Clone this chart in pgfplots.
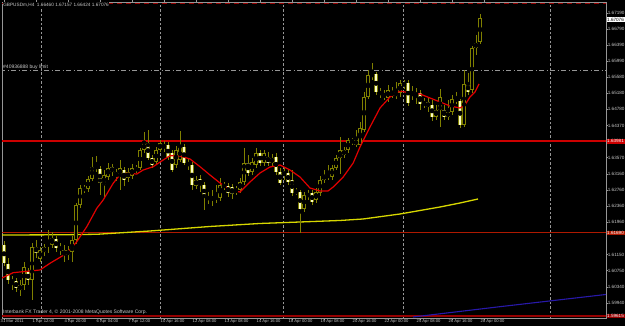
\documentclass[border=0pt]{standalone}
\usepackage{pgfplots}
\usepackage{pgfplotstable}
\usepackage{fontspec}
\setmainfont{Liberation Sans}
\pgfplotsset{compat=1.18}
\definecolor{candle}{RGB}{128,128,0}
\definecolor{bearfill}{RGB}{252,252,200}
\definecolor{txt}{RGB}{200,200,200}
\definecolor{gridc}{RGB}{150,150,150}
\definecolor{maRed}{RGB}{225,0,0}
\definecolor{hlRed}{RGB}{205,0,0}
\definecolor{dkRed}{RGB}{150,0,0}
\definecolor{brRed}{RGB}{175,25,0}
\definecolor{maYellow}{RGB}{215,215,0}
\definecolor{maBlue}{RGB}{40,25,170}
\newcommand\mt{\fontsize{5.0}{6}\selectfont}
\newcommand\mtt{\fontsize{4.7}{6}\selectfont}
\newcommand\mtp{\fontsize{4.6}{5.5}\selectfont}
\newcommand\mtx{\fontsize{4.15}{5}\selectfont}

\pgfplotstableread{
i o h l c
0 1.61390 1.61490 1.60865 1.60940
1 1.60915 1.61065 1.60415 1.60515
2 1.60515 1.60615 1.60265 1.60440
3 1.60490 1.60565 1.60215 1.60315
4 1.60265 1.60515 1.60115 1.60390
5 1.60390 1.60965 1.60265 1.60840
6 1.60715 1.60815 1.60390 1.60515
7 1.60515 1.61440 1.60015 1.61340
8 1.61340 1.61515 1.61065 1.61190
9 1.61040 1.61340 1.60965 1.61265
10 1.61215 1.61415 1.61115 1.61340
11 1.61365 1.61765 1.61190 1.61440
12 1.61390 1.61715 1.61315 1.61565
13 1.61540 1.61615 1.61215 1.61315
14 1.61340 1.61440 1.61140 1.61265
15 1.61265 1.61390 1.60965 1.61140
16 1.61140 1.61365 1.61015 1.61265
17 1.61215 1.61615 1.60965 1.61515
18 1.61515 1.62440 1.61415 1.62390
19 1.62390 1.62890 1.62315 1.62815
20 1.62815 1.62890 1.62690 1.62765
21 1.62790 1.63115 1.62715 1.63040
22 1.63040 1.63590 1.62990 1.63340
23 1.63315 1.63615 1.63215 1.63365
24 1.63290 1.63365 1.62640 1.62940
25 1.62890 1.63265 1.62590 1.63140
26 1.63090 1.63440 1.63015 1.63315
27 1.63340 1.63415 1.63115 1.63215
28 1.63215 1.63290 1.62990 1.63115
29 1.63140 1.63515 1.62765 1.63315
30 1.63265 1.63340 1.62865 1.63015
31 1.63065 1.63315 1.62965 1.63215
32 1.63115 1.63415 1.63040 1.63315
33 1.63265 1.63390 1.63190 1.63315
34 1.63315 1.63815 1.63265 1.63765
35 1.63765 1.64215 1.63690 1.63940
36 1.63940 1.64265 1.63515 1.63565
37 1.63565 1.63640 1.63315 1.63390
38 1.63465 1.63840 1.63390 1.63765
39 1.63765 1.64015 1.63715 1.63940
40 1.63915 1.63990 1.63715 1.63815
41 1.63890 1.63965 1.63515 1.63590
42 1.63690 1.63765 1.63215 1.63265
43 1.63390 1.63865 1.63315 1.63765
44 1.63515 1.64240 1.63465 1.63840
45 1.63840 1.63915 1.63390 1.63440
46 1.63465 1.63565 1.63265 1.63365
47 1.63390 1.63465 1.62765 1.62890
48 1.62865 1.63115 1.62790 1.63015
49 1.63040 1.63140 1.62715 1.62890
50 1.62890 1.62965 1.62265 1.62590
51 1.62615 1.62715 1.62415 1.62515
52 1.62590 1.62765 1.62365 1.62515
53 1.62615 1.62890 1.62440 1.62540
54 1.62565 1.63065 1.62490 1.62890
55 1.62840 1.62965 1.62765 1.62890
56 1.62865 1.62940 1.62590 1.62690
57 1.62840 1.62915 1.62540 1.62665
58 1.62765 1.62865 1.62640 1.62740
59 1.62765 1.63065 1.62690 1.62965
60 1.62965 1.63815 1.62890 1.63440
61 1.63440 1.63640 1.63115 1.63190
62 1.63215 1.63565 1.63140 1.63465
63 1.63390 1.63815 1.63315 1.63690
64 1.63690 1.63765 1.63365 1.63440
65 1.63440 1.63765 1.63365 1.63690
66 1.63590 1.63715 1.63365 1.63440
67 1.63440 1.63665 1.63365 1.63565
68 1.63590 1.63690 1.63140 1.63215
69 1.63215 1.63315 1.62890 1.62940
70 1.63215 1.63315 1.63015 1.63140
71 1.63190 1.63265 1.62890 1.62965
72 1.63015 1.63265 1.62615 1.62690
73 1.62740 1.62815 1.62640 1.62690
74 1.62715 1.62765 1.61690 1.62290
75 1.62290 1.62715 1.62215 1.62640
76 1.62590 1.62765 1.62515 1.62690
77 1.62690 1.62765 1.62390 1.62465
78 1.62515 1.62815 1.62440 1.62715
79 1.62690 1.63115 1.62615 1.63015
80 1.63140 1.63265 1.62940 1.63015
81 1.63090 1.63390 1.63015 1.63140
82 1.63090 1.63390 1.63015 1.63315
83 1.63315 1.63640 1.63265 1.63565
84 1.63565 1.64090 1.63165 1.63765
85 1.63765 1.63840 1.63565 1.63640
86 1.63765 1.64065 1.63690 1.64015
87 1.64015 1.64065 1.63890 1.63965
88 1.64015 1.64265 1.63840 1.63890
89 1.63890 1.64465 1.63840 1.64315
90 1.64265 1.65215 1.64215 1.65090
91 1.65090 1.65765 1.65040 1.65640
92 1.65615 1.65940 1.65515 1.65665
93 1.65665 1.65715 1.65140 1.65215
94 1.65240 1.65315 1.65065 1.65140
95 1.65165 1.65265 1.65015 1.65090
96 1.65065 1.65390 1.64965 1.65265
97 1.65215 1.65340 1.65065 1.65140
98 1.65115 1.65465 1.65040 1.65215
99 1.65190 1.65515 1.65090 1.65440
100 1.65440 1.65515 1.65290 1.65390
101 1.65440 1.65515 1.64865 1.64940
102 1.65190 1.65365 1.65015 1.65140
103 1.65165 1.65315 1.64915 1.65140
104 1.65190 1.65265 1.64765 1.64915
105 1.64890 1.65065 1.64815 1.64965
106 1.64965 1.65065 1.64715 1.64840
107 1.64890 1.65015 1.64490 1.64590
108 1.64590 1.64890 1.64515 1.64765
109 1.64765 1.65290 1.64340 1.65090
110 1.64765 1.64890 1.64515 1.64590
111 1.64590 1.65015 1.64515 1.64715
112 1.64715 1.65140 1.64640 1.65040
113 1.65065 1.65215 1.64915 1.64990
114 1.64990 1.65040 1.64315 1.64390
115 1.64390 1.65765 1.64340 1.65415
116 1.65415 1.65690 1.65140 1.65215
117 1.65265 1.66365 1.65190 1.66315
118 1.66315 1.66640 1.66140 1.66440
119 1.66460 1.67157 1.66424 1.67076
}\candles

\begin{document}
\begin{tikzpicture}[x=1pt,y=1pt]
\clip (0,0) rectangle (625,326);
\fill[black] (0,0) rectangle (625,326);
\begin{axis}[
  at={(2pt,8pt)}, anchor=south west,
  width=604pt, height=316pt, scale only axis,
  xmin=-0.5, xmax=150.5, ymin=1.59565, ymax=1.67465,
  axis line style={draw=gridc, line width=0.8pt},
  tick align=outside, major tick length=2pt,
  tick style={draw=gridc, line width=0.6pt},
  xtick={0,8,...,120},
  xticklabels={31 Mar 2011,1 Apr 12:00,4 Apr 20:00,6 Apr 04:00,7 Apr 12:00,10 Apr 16:00,12 Apr 08:00,13 Apr 08:00,14 Apr 16:00,18 Apr 00:00,19 Apr 08:00,20 Apr 16:00,22 Apr 00:00,25 Apr 08:00,26 Apr 16:00,28 Apr 00:00},
  xticklabel style={font=\mtx, text=txt, anchor=north west, inner sep=0pt, xshift=-3.5pt, yshift=0.3pt},
  ytick pos=right,
  ytick={1.67190,1.66790,1.66390,1.65990,1.65580,1.65180,1.64780,1.64370,1.63570,1.63160,1.62760,1.62360,1.61960,1.61150,1.60750,1.60340,1.59940},
  yticklabels={1.67190,1.66790,1.66390,1.65990,1.65580,1.65180,1.64780,1.64370,1.63570,1.63160,1.62760,1.62360,1.61960,1.61150,1.60750,1.60340,1.59940},
  yticklabel style={font=\mtp, text=txt, anchor=west, inner sep=0pt, xshift=-0.3pt},
  clip=true,
]
% vertical grid
\foreach \g in {9.25,39,69.75,99.75,136.5}{
  \edef\tmp{\noexpand\draw[gridc, line width=0.7pt, dash pattern=on 2.5pt off 2pt] (axis cs:\g,1.59565) -- (axis cs:\g,1.67465);}\tmp
}
% top dashed order line
\addplot[dkRed, line width=0.9pt, dash pattern=on 5pt off 4pt] coordinates {(-1,1.67433) (152,1.67433)};
% buy limit line
\addplot[gridc, line width=0.8pt, dash pattern=on 5pt off 2.5pt on 1pt off 2.5pt] coordinates {(-1,1.65758) (152,1.65758)};
% horizontal lines
\addplot[hlRed, line width=1.8pt] coordinates {(-1,1.63981) (152,1.63981)};
\addplot[brRed, line width=1pt] coordinates {(-1,1.61690) (152,1.61690)};
\addplot[dkRed, line width=1.8pt] coordinates {(-1,1.59615) (152,1.59615)};
% slow yellow MA
\addplot[maYellow, line width=1.3pt] coordinates {(-0.5,1.61640) (14,1.61645) (23.25,1.61658) (27.25,1.61683) (36.5,1.61740) (51.5,1.61853) (64,1.61928) (74,1.61965) (84,1.62003) (89.75,1.62040) (99,1.62165) (109,1.62340) (114,1.62440) (118.5,1.62540)};
% blue line
\addplot[maBlue, line width=1.1pt] coordinates {(102.25,1.59590) (124,1.59848) (150.5,1.60153)};
% wicks
\addplot[only marks, mark=none, error bars/.cd, y dir=both, y explicit, error mark=none,
  error bar style={draw=candle, line width=1pt}]
  table[x=i, y expr={(\thisrow{h}+\thisrow{l})/2}, y error expr={(\thisrow{h}-\thisrow{l})/2}] {\candles};
% bear bodies
\addplot[only marks, mark=none, unbounded coords=discard, error bars/.cd, y dir=both, y explicit, error mark=none,
  error bar style={draw=candle, line width=3.2pt}]
  table[x=i, y expr={\thisrow{c}<=\thisrow{o} ? (\thisrow{o}+\thisrow{c})/2 : nan}, y error expr={max(abs(\thisrow{o}-\thisrow{c})/2,0.0001)}] {\candles};
\addplot[only marks, mark=none, unbounded coords=discard, error bars/.cd, y dir=both, y explicit, error mark=none,
  error bar style={draw=bearfill, line width=2.3pt}]
  table[x=i, y expr={\thisrow{c}<=\thisrow{o} ? (\thisrow{o}+\thisrow{c})/2 : nan}, y error expr={max(abs(\thisrow{o}-\thisrow{c})/2-0.0001,0.00005)}] {\candles};
% bull bodies
\addplot[only marks, mark=none, unbounded coords=discard, error bars/.cd, y dir=both, y explicit, error mark=none,
  error bar style={draw=candle, line width=3.2pt}]
  table[x=i, y expr={\thisrow{c}>\thisrow{o} ? (\thisrow{o}+\thisrow{c})/2 : nan}, y error expr={max(abs(\thisrow{o}-\thisrow{c})/2,0.0001)}] {\candles};
\addplot[only marks, mark=none, unbounded coords=discard, error bars/.cd, y dir=both, y explicit, error mark=none,
  error bar style={draw=black, line width=1.1pt}]
  table[x=i, y expr={\thisrow{c}>\thisrow{o} ? (\thisrow{o}+\thisrow{c})/2 : nan}, y error expr={max(abs(\thisrow{o}-\thisrow{c})/2-0.00025,0)}] {\candles};
% fast red MA
\addplot[maRed, line width=1.2pt] coordinates {(-0.5,1.60565) (2.3,1.60698) (9,1.60765) (11.5,1.60933) (15.7,1.61183) (18.2,1.61473) (20.7,1.61848) (23.2,1.62308) (24.8,1.62515) (27.3,1.62933) (28.6,1.63098) (30.7,1.63183) (33.2,1.63165) (34.8,1.63265) (37.3,1.63348) (39.8,1.63515) (41.5,1.63623) (44,1.63615) (46.5,1.63540) (49,1.63348) (51.5,1.63140) (54,1.62940) (56.5,1.62765) (59,1.62715) (61.5,1.62965) (64,1.63190) (66.5,1.63340) (69,1.63390) (71.5,1.63265) (74,1.63090) (76.5,1.62815) (79,1.62740) (81,1.62740) (82.3,1.62840) (84.8,1.63090) (87.3,1.63440) (89,1.63840) (91.5,1.64340) (94,1.64815) (96.5,1.65090) (99,1.65240) (101.5,1.65190) (104,1.65165) (106.5,1.65065) (109,1.64965) (111.5,1.64865) (114,1.64815) (115.25,1.64890) (116.5,1.65090) (117.75,1.65215) (118.75,1.65415)};
\end{axis}
% texts
\node[font=\mtt, text=txt, fill=black, anchor=west, inner sep=0.6pt] at (2.5,321.2) {GBPUSDm,H4\ \ 1.66460 1.67157 1.66424 1.67076};
\node[font=\mt, text=txt, anchor=west, inner sep=0pt] at (3,259) {\#40936888 buy limit};
\node[font=\mt, text=txt, anchor=west, inner sep=0pt] at (3,13.3) {Interbank FX Trader 4, \textcopyright{} 2001-2008 MetaQuotes Software Corp.};
% price boxes
\node[font=\mtp, text=white, fill=hlRed, anchor=west, inner sep=0.7pt] at (606.3,184.6) {1.63981};
\node[font=\mtp, text=white, fill=brRed, anchor=west, inner sep=0.7pt] at (606.3,93) {1.61690};
\node[font=\mtp, text=white, fill=dkRed, anchor=west, inner sep=0.7pt] at (606.3,10) {1.59615};
\node[font=\mtp, text=black, fill=white, anchor=west, inner sep=0.7pt] at (606.3,306.4) {1.67076};
\end{tikzpicture}
\end{document}
